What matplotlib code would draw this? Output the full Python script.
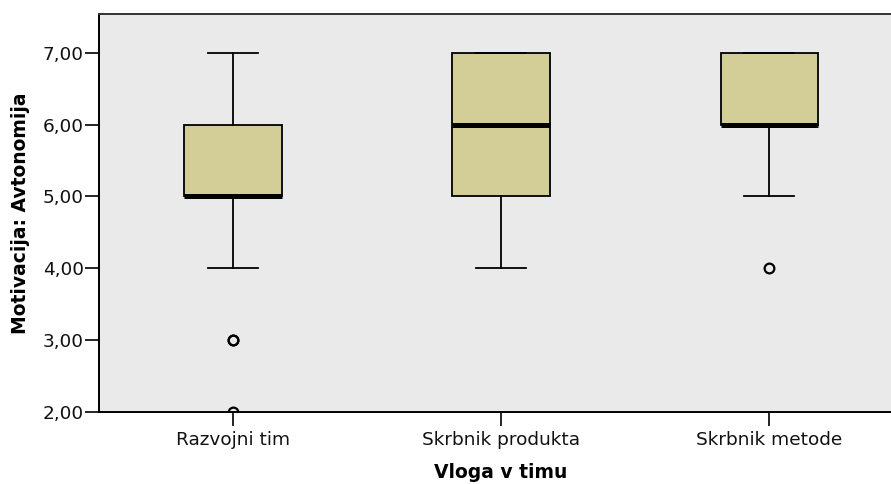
import matplotlib
matplotlib.use("Agg")
import matplotlib.pyplot as plt

# group names (x axis)
roles = ["Razvojni tim", "Skrbnik produkta", "Skrbnik metode"]

# five-number summaries
whisker_low = [4.0, 4.0, 5.0]
q1 = [5.0, 5.0, 6.0]
median = [5.0, 6.0, 6.0]
q3 = [6.0, 7.0, 7.0]
whisker_high = [7.0, 7.0, 7.0]
outliers = [[3.0, 3.0, 2.0], [], [4.0]]

y_ticks = [2, 3, 4, 5, 6, 7]

BOX_COLOR = "#D3CE98"
BG_COLOR = "#EAEAEA"

stats = []
for i, name in enumerate(roles):
    stats.append({
        "label": name,
        "whislo": whisker_low[i],
        "q1": q1[i],
        "med": median[i],
        "q3": q3[i],
        "whishi": whisker_high[i],
        "fliers": outliers[i],
    })

fig = plt.figure(figsize=(8.91, 4.84), dpi=100)
ax = fig.add_axes([0.1111, 0.1488, 0.9024, 0.8223])
ax.set_facecolor(BG_COLOR)

positions = list(range(1, len(roles) + 1))
ax.bxp(
    stats,
    positions=positions,
    widths=0.362,
    patch_artist=True,
    showfliers=True,
    boxprops=dict(facecolor=BOX_COLOR, edgecolor="black", linewidth=1.3),
    medianprops=dict(color="black", linewidth=3.6, solid_capstyle="butt"),
    whiskerprops=dict(color="black", linewidth=1.3),
    capprops=dict(color="black", linewidth=1.3),
    capwidths=0.183,
    flierprops=dict(marker="o", markersize=7, markerfacecolor="none",
                    markeredgecolor="black", markeredgewidth=1.6),
)

ax.set_xlim(0.5, 3.5)
ax.set_ylim(2.0, 7.54)
ax.set_yticks(y_ticks)
ax.set_yticklabels([f"{v:.2f}".replace(".", ",") for v in y_ticks])
ax.set_xticks(positions)
ax.set_xticklabels(roles)

ax.tick_params(axis="both", direction="out", length=10, width=1.2,
               color="black", labelsize=13.3, labelcolor="#111111", pad=1)
ax.tick_params(axis="x", pad=4)

for side in ["left", "bottom"]:
    ax.spines[side].set_color("black")
    ax.spines[side].set_linewidth(1.4)
ax.spines["top"].set_color("#333333")
ax.spines["top"].set_linewidth(1.4)
ax.spines["right"].set_visible(False)

ax.set_ylabel("Motivacija: Avtonomija", fontsize=13.5, fontweight="bold", labelpad=9)
ax.set_xlabel("Vloga v timu", fontsize=13.5, fontweight="bold", labelpad=10)

fig.savefig("out.png", dpi=100)
